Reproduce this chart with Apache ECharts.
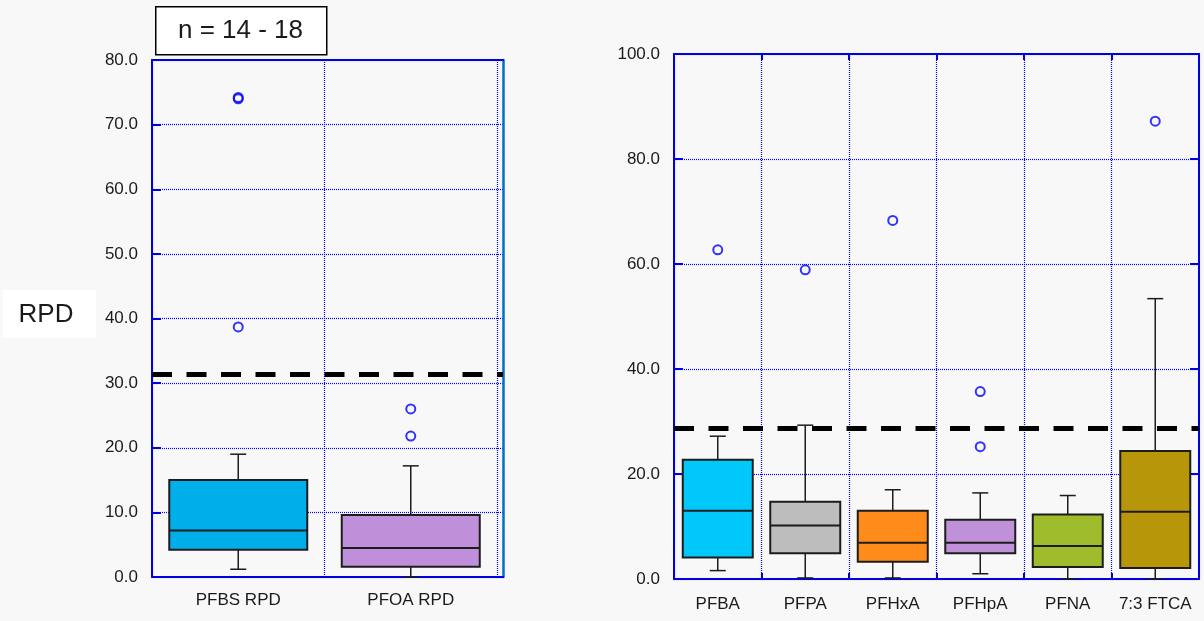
<!DOCTYPE html>
<html>
<head>
<meta charset="utf-8">
<script src="https://cdn.jsdelivr.net/npm/echarts@6/dist/echarts.min.js"></script>
<style>
  html, body { margin: 0; padding: 0; background: #f8f8f8; }
  #chart { width: 1204px; height: 621px; }
</style>
</head>
<body>
<div id="chart"></div>
<script>
// ---- Left panel: PFBS / PFOA RPD ----
const leftCategories = ['PFBS RPD', 'PFOA RPD'];
// each box: [lower whisker, Q1, median, Q3, upper whisker]
const leftBoxes = [
  [1.2, 4.2, 7.2, 15.0, 19.0],
  [0.0, 1.6, 4.5, 9.6, 17.2]
];
const leftOutliers = [[74.2, 74.0, 38.7], [26.0, 21.8]];
const leftThreshold = 31.3;
const leftYMax = 80;
const leftYStep = 10;

// ---- Right panel: individual compounds ----
const rightCategories = ['PFBA', 'PFPA', 'PFHxA', 'PFHpA', 'PFNA', '7:3 FTCA'];
const rightBoxes = [
  [1.6, 4.1, 13.0, 22.7, 27.2],
  [0.2, 4.9, 10.2, 14.7, 29.3],
  [0.2, 3.3, 6.9, 13.0, 17.0],
  [1.0, 4.9, 6.9, 11.3, 16.4],
  [0.0, 2.3, 6.3, 12.3, 15.9],
  [0.0, 2.1, 12.8, 24.4, 53.4]
];
const rightOutliers = [[62.7], [58.9], [68.3], [35.7, 25.2], [], [87.2]];
const rightThreshold = 28.7;
const rightYMax = 100;
const rightYStep = 20;

const titleText = 'n = 14 - 18';
const yAxisTitle = 'RPD';

// box fill colours, one per category
const leftColors = ['#00aeea', '#bf8fda'];
const rightColors = ['#00c8fa', '#bdbdbd', '#ff8c1a', '#c090d8', '#9ebc2c', '#b8960a'];

const FONT = "'Liberation Sans', Arial, sans-serif";
const TEXT = '#1a1a1a';
const AXIS_BLUE = '#0000e0';
const GRID_BLUE = '#0000ff';
const INK = '#1c1c1c';

function boxData(boxes) {
  return boxes.map((b, i) => [i].concat(b));
}
function outlierData(outliers) {
  const out = [];
  outliers.forEach((list, i) => list.forEach(v => out.push([i, v])));
  return out;
}

// draws whiskers, caps, box and median through the axis scales
function boxRenderer(colors) {
  return function (params, api) {
    const i = api.value(0);
    const lo = api.coord([i, api.value(1)]);
    const q1 = api.coord([i, api.value(2)]);
    const md = api.coord([i, api.value(3)]);
    const q3 = api.coord([i, api.value(4)]);
    const hi = api.coord([i, api.value(5)]);
    const band = api.size([1, 0])[0];
    const half = band * 0.4;
    const cap = 8;
    const x = lo[0];
    const whisker = { stroke: INK, lineWidth: 1.5 };
    return {
      type: 'group',
      children: [
        { type: 'line', shape: { x1: x, y1: q3[1], x2: x, y2: hi[1] }, style: whisker },
        { type: 'line', shape: { x1: x - cap, y1: hi[1], x2: x + cap, y2: hi[1] }, style: whisker },
        { type: 'line', shape: { x1: x, y1: q1[1], x2: x, y2: lo[1] }, style: whisker },
        { type: 'line', shape: { x1: x - cap, y1: lo[1], x2: x + cap, y2: lo[1] }, style: whisker },
        { type: 'rect', shape: { x: x - half, y: q3[1], width: half * 2, height: q1[1] - q3[1] },
          style: { fill: colors[i], stroke: INK, lineWidth: 2 } },
        { type: 'line', shape: { x1: x - half, y1: md[1], x2: x + half, y2: md[1] },
          style: { stroke: INK, lineWidth: 2 } }
      ]
    };
  };
}

const dotted = { color: GRID_BLUE, width: 1.2, type: [1, 1] };
const solidAxis = { color: AXIS_BLUE, width: 2 };
const tickLabel = { fontSize: 17, color: TEXT, fontFamily: FONT };
const outlierStyle = { color: 'rgba(0,0,0,0)', borderColor: '#0000ff', borderWidth: 2 };
const thresholdStyle = { color: '#000', width: 5, type: [20, 14.5] };

const chart = echarts.init(document.getElementById('chart'), null, { renderer: 'canvas' });

chart.setOption({
  backgroundColor: '#f8f8f8',
  animation: false,
  grid: [
    // left panel boxes (category bands)
    { left: 152, top: 60, width: 345, height: 517, outerBoundsMode: 'none' },
    // left panel frame (slightly wider)
    { left: 152, top: 60, width: 351, height: 517, outerBoundsMode: 'none' },
    // right panel
    { left: 674, top: 54, width: 525, height: 525, outerBoundsMode: 'none' }
  ],
  xAxis: [
    { gridIndex: 0, type: 'category', data: leftCategories,
      axisLine: { show: false, onZero: false }, axisTick: { show: false },
      axisLabel: Object.assign({ margin: 15, interval: 0 }, tickLabel),
      splitLine: { show: true, interval: 0, lineStyle: dotted } },
    { gridIndex: 1, type: 'value', min: 0, max: 1, position: 'bottom',
      axisLine: { show: true, onZero: false, lineStyle: solidAxis }, axisTick: { show: false },
      axisLabel: { show: false }, splitLine: { show: false } },
    { gridIndex: 1, type: 'value', min: 0, max: 1, position: 'top',
      axisLine: { show: true, onZero: false, lineStyle: solidAxis }, axisTick: { show: false },
      axisLabel: { show: false }, splitLine: { show: false } },
    { gridIndex: 2, type: 'category', data: rightCategories, position: 'bottom',
      axisLine: { show: true, onZero: false, lineStyle: solidAxis },
      axisTick: { show: true, inside: true, length: 6, interval: 0, lineStyle: solidAxis },
      axisLabel: Object.assign({ margin: 17, interval: 0 }, tickLabel),
      splitLine: { show: true, interval: 0, lineStyle: dotted } },
    { gridIndex: 2, type: 'category', data: rightCategories, position: 'top',
      axisLine: { show: true, onZero: false, lineStyle: solidAxis },
      axisTick: { show: true, inside: true, length: 6, interval: 0, lineStyle: solidAxis },
      axisLabel: { show: false }, splitLine: { show: false } }
  ],
  yAxis: [
    { gridIndex: 0, type: 'value', min: 0, max: leftYMax, show: false },
    { gridIndex: 1, type: 'value', min: 0, max: leftYMax, interval: leftYStep, position: 'left',
      axisLine: { show: true, onZero: false, lineStyle: solidAxis },
      axisTick: { show: true, inside: true, length: 9, lineStyle: solidAxis },
      axisLabel: Object.assign({ margin: 14, formatter: v => v.toFixed(1) }, tickLabel),
      splitLine: { show: true, lineStyle: dotted } },
    { gridIndex: 1, type: 'value', min: 0, max: leftYMax, interval: leftYStep, position: 'right',
      axisLine: { show: true, onZero: false, lineStyle: { color: '#0070c8', width: 2.5 } },
      axisTick: { show: false }, axisLabel: { show: false }, splitLine: { show: false } },
    { gridIndex: 2, type: 'value', min: 0, max: rightYMax, interval: rightYStep, position: 'left',
      axisLine: { show: true, onZero: false, lineStyle: solidAxis },
      axisTick: { show: true, inside: true, length: 9, lineStyle: solidAxis },
      axisLabel: Object.assign({ margin: 14, formatter: v => v.toFixed(1) }, tickLabel),
      splitLine: { show: true, lineStyle: dotted } },
    { gridIndex: 2, type: 'value', min: 0, max: rightYMax, interval: rightYStep, position: 'right',
      axisLine: { show: true, onZero: false, lineStyle: solidAxis },
      axisTick: { show: true, inside: true, length: 9, lineStyle: solidAxis },
      axisLabel: { show: false }, splitLine: { show: false } }
  ],
  series: [
    // threshold line across the left frame
    { type: 'scatter', xAxisIndex: 1, yAxisIndex: 1, data: [], silent: true,
      markLine: { symbol: 'none', silent: true, label: { show: false },
        lineStyle: thresholdStyle, data: [{ yAxis: leftThreshold }] } },
    { type: 'custom', xAxisIndex: 0, yAxisIndex: 0, data: boxData(leftBoxes),
      renderItem: boxRenderer(leftColors), clip: false, z: 3 },
    { type: 'scatter', xAxisIndex: 0, yAxisIndex: 0, data: outlierData(leftOutliers),
      symbol: 'circle', symbolSize: 9, itemStyle: outlierStyle, z: 4 },
    { type: 'custom', xAxisIndex: 3, yAxisIndex: 3, data: boxData(rightBoxes),
      renderItem: boxRenderer(rightColors), clip: false, z: 3 },
    { type: 'scatter', xAxisIndex: 3, yAxisIndex: 3, data: outlierData(rightOutliers),
      symbol: 'circle', symbolSize: 9, itemStyle: outlierStyle, z: 4,
      markLine: { symbol: 'none', silent: true, label: { show: false },
        lineStyle: thresholdStyle, data: [{ yAxis: rightThreshold }] } }
  ],
  graphic: [
    { type: 'rect', left: 155, top: 6, shape: { width: 171, height: 48 },
      style: { fill: '#ffffff', stroke: '#000000', lineWidth: 1.5 }, z: 10 },
    { type: 'text', x: 240.5, y: 31, z: 11,
      style: { text: titleText, fill: TEXT, font: "26px 'Liberation Sans', Arial, sans-serif",
        textAlign: 'center', textVerticalAlign: 'middle' } },
    { type: 'rect', left: 3, top: 290, shape: { width: 93, height: 48 },
      style: { fill: '#ffffff' }, z: 10 },
    { type: 'text', x: 46, y: 315, z: 11,
      style: { text: yAxisTitle, fill: TEXT, font: "26px 'Liberation Sans', Arial, sans-serif",
        textAlign: 'center', textVerticalAlign: 'middle' } }
  ]
});
</script>
</body>
</html>
